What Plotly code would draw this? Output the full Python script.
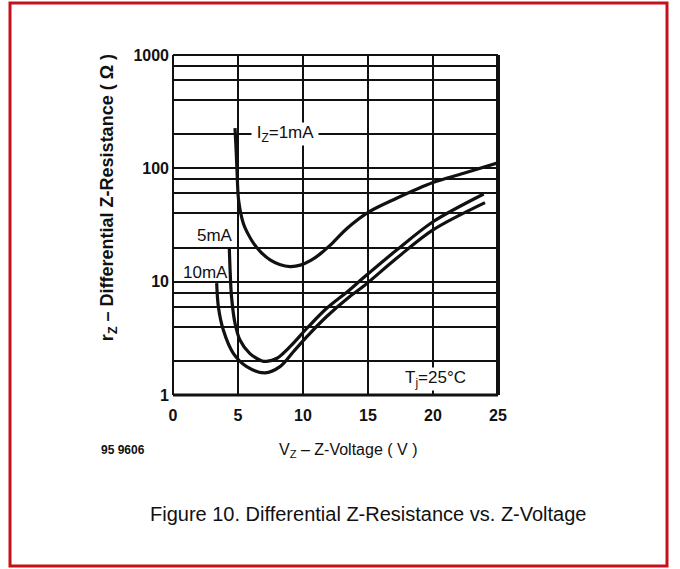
import plotly.graph_objects as go

# Differential Z-resistance vs. Z-voltage at three test currents (Tj = 25 °C)
v_1ma = [4.77, 4.85, 4.92, 5.05, 5.4, 5.8, 6.2, 6.8, 7.5, 8.2, 9.0, 9.8, 10.6, 11.3, 12.1, 13.4, 15.1, 17.2, 20.0, 22.3, 25.0]
r_1ma = [226, 150, 97, 52, 33, 26, 21.8, 18, 15.5, 14.2, 13.6, 14.0, 15.4, 17.5, 21, 29.6, 41.5, 54.5, 75, 90, 112]

v_5ma = [4.33, 4.4, 4.5, 4.77, 5.15, 5.9, 6.8, 7.2, 8.0, 9.0, 10.3, 11.8, 13.6, 14.6, 17.2, 20.0, 23.9]
r_5ma = [20, 12, 7.4, 4.3, 3.06, 2.33, 2.01, 1.98, 2.11, 2.67, 3.88, 5.8, 8.5, 10.7, 19.0, 33.8, 59.4]

v_10ma = [3.36, 3.49, 3.87, 4.64, 5.67, 7.08, 8.23, 9.26, 10.3, 11.8, 13.6, 14.6, 17.2, 20.0, 24.0]
r_10ma = [9.7, 6.0, 3.74, 2.33, 1.78, 1.57, 1.78, 2.41, 3.27, 4.9, 7.4, 9.0, 16.1, 28.6, 49.8]

x_ticks = [0, 5, 10, 15, 20, 25]
y_grid = [1, 2, 4, 6, 8, 10, 20, 40, 60, 80, 100, 200, 400, 600, 800, 1000]
y_labels = {1: "1", 10: "10", 100: "100", 1000: "1000"}

FONT = "Liberation Sans, Arial, sans-serif"
INK = "#111111"
BORDER_RED = "#c4121c"

fig = go.Figure()
for vx, ry in [(v_1ma, r_1ma), (v_5ma, r_5ma), (v_10ma, r_10ma)]:
    fig.add_trace(go.Scatter(
        x=vx, y=ry, mode="lines",
        line=dict(color=INK, width=3.2, shape="spline", smoothing=0.9),
        showlegend=False, hoverinfo="skip",
    ))

fig.update_layout(
    width=680, height=569, autosize=False,
    margin=dict(l=173, r=182, t=55, b=174),
    paper_bgcolor="white", plot_bgcolor="white",
    xaxis=dict(
        range=[0, 25], tickvals=x_ticks, ticktext=[str(t) for t in x_ticks],
        showgrid=True, gridcolor=INK, gridwidth=1.8,
        zeroline=False, showline=False, ticks="",
        ticklabelstandoff=9,
        tickfont=dict(family=FONT, size=16, color=INK, weight="bold"),
    ),
    yaxis=dict(
        type="log", range=[0, 3],
        tickvals=y_grid, ticktext=[y_labels.get(v, "") for v in y_grid],
        showgrid=True, gridcolor=INK, gridwidth=1.8,
        zeroline=False, showline=False, ticks="",
        ticklabelstandoff=3,
        tickfont=dict(family=FONT, size=16, color=INK, weight="bold"),
    ),
    font=dict(family=FONT, color=INK),
)

# plot frame: thin left/top, heavier bottom/right
frame = [
    dict(x0=0, x1=0, y0=0, y1=1, w=2),
    dict(x0=0, x1=1, y0=1, y1=1, w=2.2),
    dict(x0=0, x1=1, y0=0, y1=0, w=3.2),
    dict(x0=1, x1=1, y0=0, y1=1, w=4),
]
for f in frame:
    fig.add_shape(type="line", xref="paper", yref="paper",
                  x0=f["x0"], x1=f["x1"], y0=f["y0"], y1=f["y1"],
                  line=dict(color=INK, width=f["w"]), layer="above")

# outer red border around the whole figure
fig.add_shape(type="rect", xref="paper", yref="paper",
              x0=-0.5015, x1=1.52, y0=-0.503, y1=1.153,
              line=dict(color=BORDER_RED, width=3), layer="above")

# curve labels
LABEL_FONT = dict(family=FONT, size=17, color=INK)
fig.add_annotation(x=8.6, y=2.30, xref="x", yref="y",
                   text="\u00a0I<sub>Z</sub>=1mA\u00a0", showarrow=False,
                   bgcolor="white", borderpad=0, font=LABEL_FONT)
fig.add_annotation(x=3.2, y=1.41, xref="x", yref="y", text="5mA", showarrow=False,
                   font=LABEL_FONT)
fig.add_annotation(x=2.5, y=1.08, xref="x", yref="y", text="10mA", showarrow=False,
                   font=LABEL_FONT)
fig.add_annotation(x=20.2, y=0.14, xref="x", yref="y", text="T<sub>j</sub>=25°C",
                   showarrow=False, bgcolor="white", borderpad=0, font=LABEL_FONT)

# axis titles
fig.add_annotation(x=-0.2, y=0.579, xref="paper", yref="paper",
                   text="r<sub>Z</sub> – Differential Z-Resistance ( Ω )",
                   textangle=-90, showarrow=False, xanchor="center", yanchor="middle",
                   font=dict(family=FONT, size=18, color=INK, weight="bold"))
fig.add_annotation(x=0.538, y=-0.162, xref="paper", yref="paper",
                   text="V<sub>Z</sub> – Z-Voltage ( V )",
                   showarrow=False, xanchor="center", yanchor="middle",
                   font=dict(family=FONT, size=16, color=INK))
fig.add_annotation(x=-0.155, y=-0.162, xref="paper", yref="paper",
                   text="95 9606", showarrow=False, xanchor="center", yanchor="middle",
                   font=dict(family=FONT, size=12, color=INK, weight="bold"))

# figure caption
fig.add_annotation(x=0.6, y=-0.35, xref="paper", yref="paper",
                   text="Figure 10. Differential Z-Resistance vs. Z-Voltage",
                   showarrow=False, xanchor="center", yanchor="middle",
                   font=dict(family=FONT, size=20, color=INK))

fig.write_html("out.html")
